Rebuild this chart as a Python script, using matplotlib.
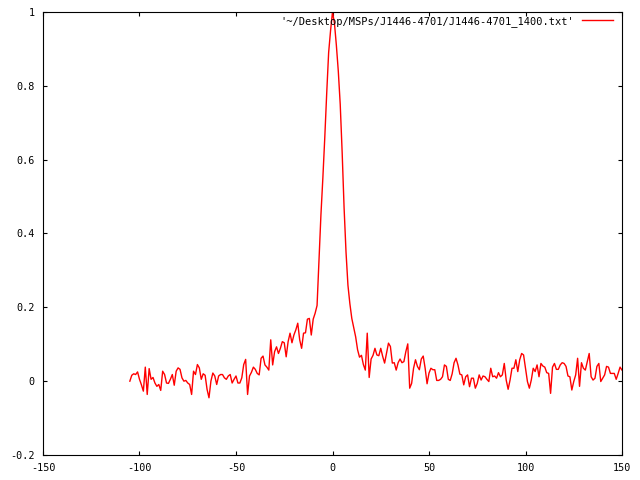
import numpy as np
import matplotlib
matplotlib.use("Agg")
import matplotlib.pyplot as plt

# profile values, one per unit of x, starting at x = -105
off_left = [0.00, 0.016, 0.02, 0.018, 0.025, 0.005, -0.01, -0.027, 0.038, -0.036,
            0.034, 0.005, 0.01, -0.005, -0.014, -0.009, -0.025, 0.027, 0.018, -0.005,
            -0.006, 0.005, 0.018, -0.011, 0.027, 0.036, 0.032, 0.009, 0.0, 0.002,
            -0.005, -0.009, -0.036, 0.027, 0.018, 0.045, 0.036, 0.005, 0.02, 0.016,
            -0.022, -0.045, 0.0, 0.022, 0.014, -0.009, 0.014, 0.018, 0.018, 0.009,
            0.005, 0.014, 0.018, -0.005, 0.005, 0.014, -0.005, -0.005, 0.009, 0.045,
            0.059, -0.036, 0.014]
ramp = [0.024, 0.038, 0.032, 0.021, 0.017, 0.062, 0.068, 0.044, 0.038, 0.030,
        0.112, 0.044, 0.08, 0.093, 0.075, 0.089, 0.107, 0.104, 0.066, 0.107,
        0.13, 0.104, 0.125, 0.139, 0.157, 0.112, 0.089, 0.13, 0.131, 0.168,
        0.17, 0.125, 0.168, 0.184, 0.205]
peak = [0.33, 0.45, 0.55, 0.66, 0.78, 0.89, 0.95, 1.0, 0.97, 0.91,
        0.84, 0.75, 0.62, 0.47, 0.35, 0.26, 0.21, 0.17]
decay = [0.145, 0.12, 0.085, 0.065, 0.07, 0.045, 0.03, 0.13, 0.01, 0.06, 0.07]
off_mid = [0.089, 0.071, 0.069, 0.089, 0.067, 0.049, 0.076, 0.103, 0.094, 0.049,
           0.05, 0.03, 0.05, 0.06, 0.05, 0.053, 0.08, 0.101, -0.019, -0.006,
           0.035, 0.058, 0.04, 0.031, 0.06, 0.068, 0.035, -0.007, 0.022, 0.035,
           0.031, 0.031, 0.002, 0.002, 0.005, 0.012, 0.044, 0.04, 0.005, 0.002,
           0.02, 0.05, 0.062, 0.044, 0.019, 0.017, -0.01, 0.012, 0.017, -0.015,
           0.008, 0.008, -0.019, -0.006, 0.017, 0.003, 0.014, 0.012, 0.005, -0.001,
           0.035, 0.012, 0.014, 0.008, 0.023]
off_right = [0.012, 0.017, 0.048, 0.003, -0.022, 0.003, 0.035, 0.035, 0.058, 0.026,
             0.058, 0.075, 0.071, 0.035, -0.001, -0.019, 0.003, 0.035, 0.026, 0.044,
             0.012, 0.048, 0.041, 0.038, 0.023, 0.021, -0.033, 0.038, 0.048, 0.032,
             0.032, 0.044, 0.05, 0.048, 0.04, 0.014, 0.012, -0.024, -0.001, 0.017,
             0.062, -0.014, 0.05, 0.035, 0.03, 0.053, 0.075, 0.012, 0.003, 0.008,
             0.04, 0.048, -0.001, 0.008, 0.017, 0.04, 0.038, 0.021, 0.021, 0.021,
             0.005, 0.021, 0.038, 0.03]

x_start = -105
x_ticks = [-150, -100, -50, 0, 50, 100, 150]
y_ticks = [-0.2, 0, 0.2, 0.4, 0.6, 0.8, 1]
label = "'~/Desktop/MSPs/J1446-4701/J1446-4701_1400.txt'"

y = np.array(off_left + ramp + peak + decay + off_mid + off_right)
x = x_start + np.arange(len(y))

plt.rcParams["font.family"] = ["DejaVu Sans Mono"]
plt.rcParams["font.size"] = 7.3

fig = plt.figure(figsize=(6.4, 4.8), dpi=100)
ax = fig.add_axes([43 / 640, 25 / 480, 579 / 640, 443 / 480])
ax.plot(x, y, color="red", lw=1, label=label)

ax.set_xlim(-150, 150)
ax.set_ylim(-0.2, 1)
ax.set_xticks(x_ticks)
ax.set_yticks(y_ticks)
ax.set_xticklabels(["%g" % t for t in x_ticks])
ax.set_yticklabels(["%g" % t for t in y_ticks])
ax.tick_params(direction="in", length=3, width=0.8, top=True, right=True, pad=6)
for s in ax.spines.values():
    s.set_linewidth(0.8)

ax.legend(loc="upper right", bbox_to_anchor=(0.99, 1.0), frameon=False,
          markerfirst=False, handlelength=3.0, handletextpad=0.7,
          borderaxespad=0.05, borderpad=0.3, fontsize=7.45)

fig.savefig("out.png", dpi=100)
